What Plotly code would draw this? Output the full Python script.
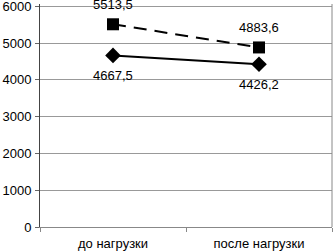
import plotly.graph_objects as go

categories = ["до нагрузки", "после нагрузки"]
series_square = [5513.5, 4883.6]
series_diamond = [4667.5, 4426.2]
y_ticks = [0, 1000, 2000, 3000, 4000, 5000, 6000]

font = dict(family="Liberation Sans, Arial, sans-serif", size=13, color="black")

fig = go.Figure()
fig.add_trace(go.Scatter(
    x=categories, y=series_square, mode="lines+markers",
    line=dict(color="black", width=2, dash="13px,8px"),
    marker=dict(symbol="square", size=12, color="black"),
    cliponaxis=False, showlegend=False,
))
fig.add_trace(go.Scatter(
    x=categories, y=series_diamond, mode="lines+markers",
    line=dict(color="black", width=2),
    marker=dict(symbol="diamond", size=12, color="black"),
    cliponaxis=False, showlegend=False,
))

annotations = []
for c, v in zip(categories, series_square):
    annotations.append(dict(x=c, y=v, text=f"{v:.1f}".replace(".", ","),
                            showarrow=False, yshift=20, font=font))
for c, v in zip(categories, series_diamond):
    annotations.append(dict(x=c, y=v, text=f"{v:.1f}".replace(".", ","),
                            showarrow=False, yshift=-20, font=font))

fig.update_layout(
    width=334, height=251,
    margin=dict(l=40, r=2, t=4, b=24),
    paper_bgcolor="white", plot_bgcolor="white",
    font=font,
    annotations=annotations,
    xaxis=dict(
        type="category", showgrid=False, showline=True, linecolor="#888888",
        linewidth=1, ticks="outside", tickson="boundaries", ticklen=4,
        tickcolor="#888888", tickfont=font, range=[-0.5, 1.5],
        ticklabelstandoff=4, automargin=False,
    ),
    yaxis=dict(
        range=[0, 6065], tickvals=y_ticks, showgrid=True, gridcolor="#999999",
        gridwidth=1, showline=True, linecolor="#444444", linewidth=1,
        ticks="outside", ticklen=4, tickcolor="#666666", tickfont=font,
        zeroline=False, ticklabelstandoff=1, ticklabeloverflow="allow",
        automargin=False,
    ),
    shapes=[dict(type="line", xref="paper", yref="paper", x0=1, x1=1, y0=0, y1=1,
                 line=dict(color="#888888", width=1))],
)

fig.write_html("out.html", config={"displayModeBar": False},
               post_script="document.body.style.margin='0';")
